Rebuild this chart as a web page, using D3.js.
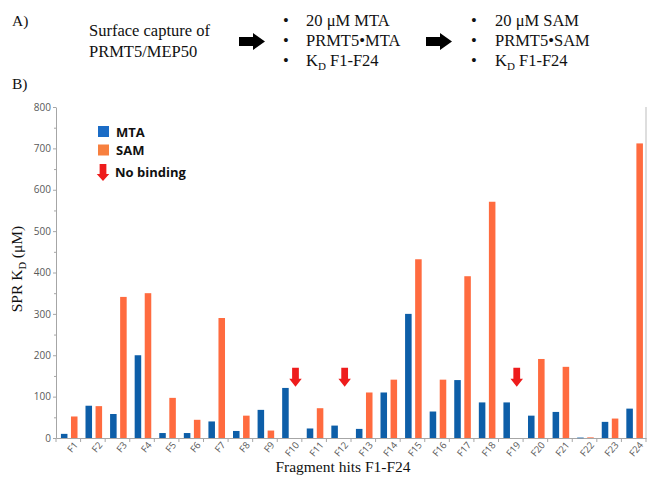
<!DOCTYPE html>
<html>
<head>
<meta charset="utf-8">
<script src="https://cdn.jsdelivr.net/npm/d3@7"></script>
<style>
  html, body { margin: 0; padding: 0; background: #fff; }
  svg { display: block; }
</style>
</head>
<body>
<svg id="chart" width="648" height="477"></svg>
<script>
// ---------------- data ----------------
const categories = ["F1","F2","F3","F4","F5","F6","F7","F8","F9","F10","F11","F12",
                    "F13","F14","F15","F16","F17","F18","F19","F20","F21","F22","F23","F24"];
const mtaValues = [10,78,58,200,12,12,40,17,68,121,23,30,22,110,300,64,140,86,86,54,63,1,39,71];
const samValues = [52,77,341,350,97,44,290,54,18,null,72,null,110,141,432,141,391,571,null,191,172,1.5,47,712];
const noBinding = ["F10","F12","F19"];
const seriesNames = ["MTA","SAM"];
const yTicks = [0,100,200,300,400,500,600,700,800];
const yMinorTicks = [50,150,250,350,450,550,650,750];

// ---------------- layout ----------------
const svg = d3.select("#chart");
const colors = { MTA: "#0d5ea8", SAM: "#ff6b3f" };
const legendColors = { MTA: "#1b6cc6", SAM: "#f7803f" };
const serif = "'Liberation Serif', 'Times New Roman', serif";
const sans = "'Open Sans', 'Noto Sans', sans-serif";

const plot = { left: 56, right: 646, top: 107, bottom: 438 };

const x = d3.scaleBand().domain(categories).range([plot.left, plot.right]).padding(0);
const bw = x.bandwidth();
const xSub = d3.scaleBand().domain(seriesNames).range([bw * 0.2, bw * 0.875]).paddingInner(0.35);
const y = d3.scaleLinear().domain([0, 800]).range([plot.bottom, plot.top]);

// ---------------- panel A ----------------
const gA = svg.append("g").attr("font-family", serif).attr("fill", "#111");
gA.append("text").attr("x", 12).attr("y", 26).attr("font-size", 15.5).text("A)");
gA.append("text").attr("x", 12).attr("y", 89).attr("font-size", 15.5).text("B)");
gA.append("text").attr("x", 89).attr("y", 36).attr("font-size", 16.5).text("Surface capture of");
gA.append("text").attr("x", 89).attr("y", 57).attr("font-size", 16.5).text("PRMT5/MEP50");

function blockArrow(x0) {
  const p = d3.path();
  p.moveTo(x0, 37); p.lineTo(x0 + 14, 37); p.lineTo(x0 + 14, 33);
  p.lineTo(x0 + 26, 41.5); p.lineTo(x0 + 14, 50); p.lineTo(x0 + 14, 46);
  p.lineTo(x0, 46); p.closePath();
  svg.append("path").attr("d", p.toString()).attr("fill", "#000");
}
blockArrow(239);
blockArrow(426);

function bulletList(bx, tx, items) {
  const baselines = [26, 46, 66];
  items.forEach((it, i) => {
    gA.append("text").attr("x", bx).attr("y", baselines[i]).attr("font-size", 16.5)
      .attr("text-anchor", "middle").text("•");
    const t = gA.append("text").attr("x", tx).attr("y", baselines[i]).attr("font-size", 16.5);
    if (it.sub) {
      t.append("tspan").text(it.main);
      t.append("tspan").attr("font-size", 11).attr("dy", 4).text(it.sub);
      t.append("tspan").attr("dy", -4).text(it.rest);
    } else {
      t.text(it.main);
    }
  });
}
bulletList(286, 306, [{main: "20 μM MTA"}, {main: "PRMT5•MTA"}, {main: "K", sub: "D", rest: " F1-F24"}]);
bulletList(474, 495, [{main: "20 μM SAM"}, {main: "PRMT5•SAM"}, {main: "K", sub: "D", rest: " F1-F24"}]);

// ---------------- axes ----------------
const axisColor = "#a6a6a6";
const tickTextColor = "#595959";

const yAxis = svg.append("g").attr("transform", `translate(${plot.left},0)`)
  .call(d3.axisLeft(y).tickValues(yTicks).tickSize(3).tickSizeOuter(0).tickFormat(d3.format("d")));
yAxis.select(".domain").attr("stroke", axisColor);
yAxis.selectAll(".tick line").attr("stroke", axisColor);
yAxis.selectAll(".tick text").attr("fill", tickTextColor).attr("font-family", sans)
  .attr("font-size", 10).attr("x", -5);
svg.append("g").attr("transform", `translate(${plot.left},0)`)
  .call(d3.axisLeft(y).tickValues(yMinorTicks).tickSize(2).tickFormat(""))
  .call(g => g.select(".domain").remove())
  .selectAll(".tick line").attr("stroke", axisColor);

// right border
svg.append("line").attr("x1", plot.right).attr("x2", plot.right)
  .attr("y1", y(800)).attr("y2", plot.bottom).attr("stroke", "#c8c8c8").attr("stroke-width", 1.2);

// x axis
const xAxis = svg.append("g").attr("transform", `translate(0,${plot.bottom})`)
  .call(d3.axisBottom(x).tickSize(0).tickSizeOuter(0));
xAxis.select(".domain").attr("stroke", axisColor);
xAxis.selectAll(".tick text").attr("fill", tickTextColor).attr("font-family", sans)
  .attr("font-size", 9.5).attr("text-anchor", "end")
  .attr("transform", "translate(5,3) rotate(-50)").attr("dy", "0.7em").attr("y", 0).attr("x", 0);
// boundary ticks
svg.append("g").selectAll("line").data(categories.concat(["__end"])).join("line")
  .attr("x1", (d, i) => plot.left + i * bw).attr("x2", (d, i) => plot.left + i * bw)
  .attr("y1", plot.bottom).attr("y2", plot.bottom + 4).attr("stroke", axisColor);

// ---------------- bars ----------------
const rows = categories.map((c, i) => ({ cat: c, MTA: mtaValues[i], SAM: samValues[i] }));
const gBars = svg.append("g");
rows.forEach(r => {
  seriesNames.forEach(s => {
    if (r[s] == null) return;
    gBars.append("rect")
      .attr("x", x(r.cat) + xSub(s))
      .attr("width", xSub.bandwidth())
      .attr("y", y(r[s]))
      .attr("height", Math.max(0.6, y(0) - y(r[s])))
      .attr("fill", colors[s]);
  });
});

// ---------------- no-binding arrows ----------------
const arrowRed = "#ee1c1c";
function downArrow(cx, tipY, w, h, headH) {
  const p = d3.path();
  const sw = w * 0.27;
  p.moveTo(cx - sw, tipY - h); p.lineTo(cx + sw, tipY - h); p.lineTo(cx + sw, tipY - headH);
  p.lineTo(cx + w / 2, tipY - headH); p.lineTo(cx, tipY); p.lineTo(cx - w / 2, tipY - headH);
  p.lineTo(cx - sw, tipY - headH); p.closePath();
  return p.toString();
}
const arrowTipValue = 124;
svg.append("g").selectAll("path").data(noBinding).join("path")
  .attr("d", d => downArrow(x(d) + xSub("SAM") + xSub.bandwidth() / 2, y(arrowTipValue), 12.5, 19, 8))
  .attr("fill", arrowRed);

// ---------------- legend ----------------
const gL = svg.append("g").attr("font-family", sans).attr("font-weight", "bold")
  .attr("font-size", 13).attr("fill", "#111");
seriesNames.forEach((s, i) => {
  const yy = 126 + i * 18.5;
  gL.append("rect").attr("x", 98).attr("y", yy).attr("width", 11).attr("height", 11)
    .attr("fill", legendColors[s]);
  gL.append("text").attr("x", 116).attr("y", yy + 10.5).text(s);
});
svg.append("path").attr("d", downArrow(103, 181, 12.5, 17, 7)).attr("fill", arrowRed);
gL.append("text").attr("x", 115).attr("y", 176.5).text("No binding");

// ---------------- axis titles ----------------
svg.append("text").attr("x", 343).attr("y", 472).attr("text-anchor", "middle")
  .attr("font-family", serif).attr("font-size", 15.5).attr("fill", "#111")
  .text("Fragment hits F1-F24");
const yt = svg.append("text").attr("transform", "translate(22,269) rotate(-90)")
  .attr("text-anchor", "middle").attr("font-family", serif).attr("font-size", 15.5).attr("fill", "#111");
yt.append("tspan").text("SPR K");
yt.append("tspan").attr("font-size", 10.5).attr("dy", 4).text("D");
yt.append("tspan").attr("dy", -4).text(" (μM)");
</script>
</body>
</html>
